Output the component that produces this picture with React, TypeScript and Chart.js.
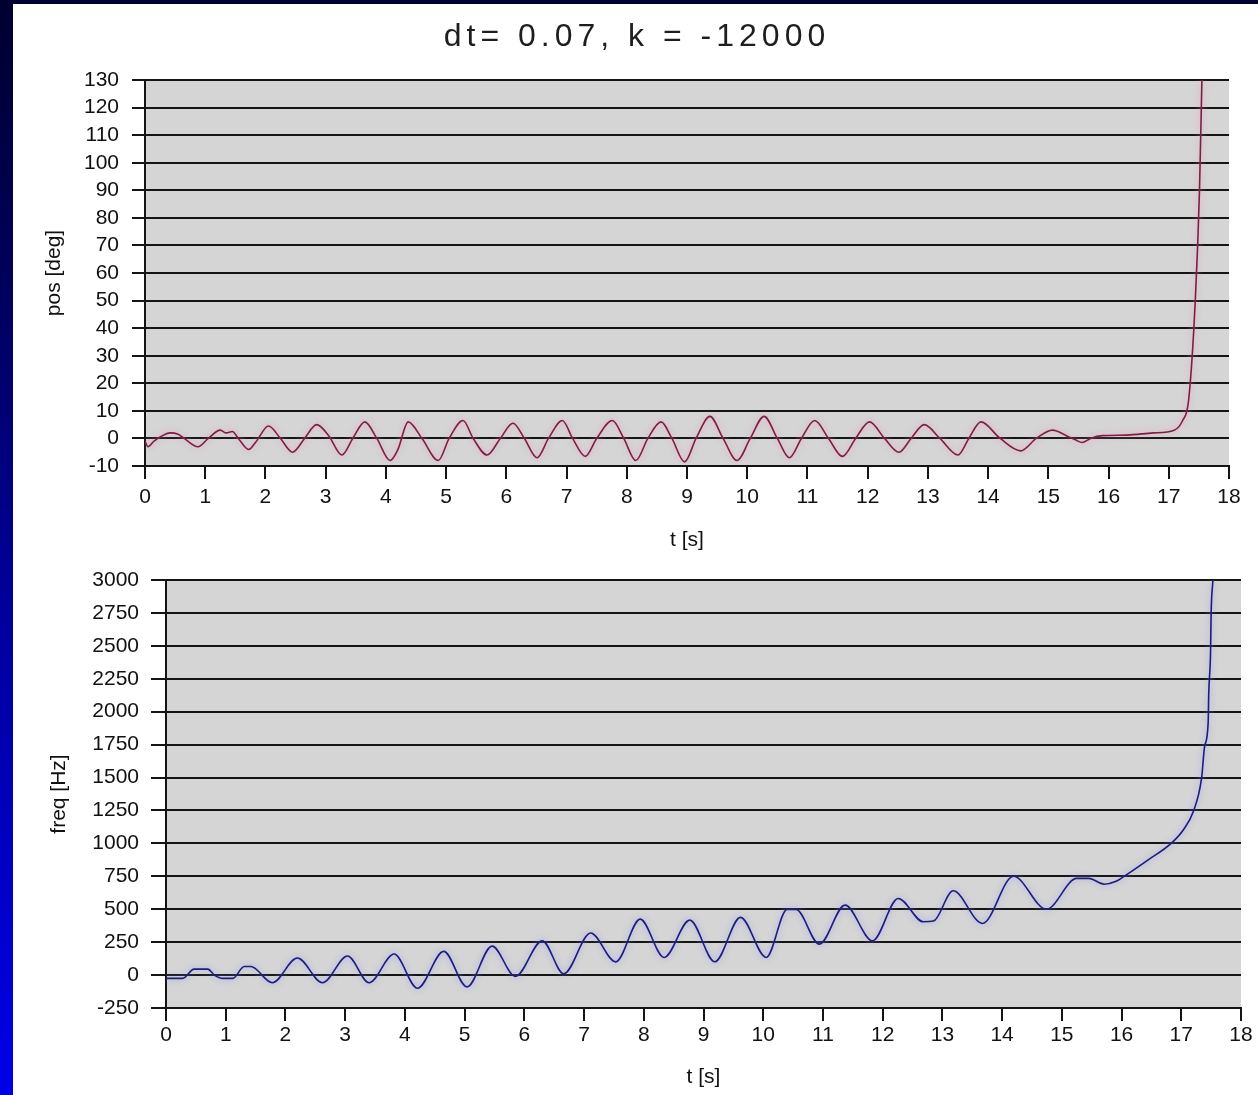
import React, { useEffect, useRef } from "react";
import { Chart, registerables } from "chart.js";

Chart.register(...registerables);

// ---- data -------------------------------------------------------------
const TITLE = "dt= 0.07, k = -12000";

const tTicksMax = 18;

// angular position over time
const posT = [
  0.0, 0.05, 0.15, 0.25, 0.42, 0.55, 0.65, 0.88, 1.05, 1.25, 1.35, 1.45, 1.55, 1.72, 1.85,
  2.05, 2.25, 2.45, 2.65, 2.85, 3.05, 3.27, 3.45, 3.65, 3.85, 4.07, 4.2, 4.37, 4.6, 4.87,
  5.05, 5.28, 5.45, 5.68, 5.9, 6.11, 6.3, 6.51, 6.7, 6.93, 7.1, 7.31, 7.5, 7.76, 7.95,
  8.15, 8.35, 8.57, 8.75, 8.96, 9.15, 9.38, 9.6, 9.83, 10.05, 10.28, 10.5, 10.7, 10.9,
  11.12, 11.35, 11.58, 11.8, 12.03, 12.28, 12.52, 12.72, 12.94, 13.2, 13.5, 13.68, 13.88,
  14.2, 14.54, 14.8, 15.07, 15.3, 15.45, 15.56, 15.7, 15.9, 16.3, 16.74, 17.09, 17.23,
  17.33, 17.44, 17.51, 17.55,
];
const posDeg = [
  -1, -3, -1, 0.5, 2, 1.5, 0, -3, 0, 3, 2, 2.5, 0, -4, -1,
  4.5, 0, -5, 0, 5, 1, -6, 0, 6, 0, -8, -4, 6, 0, -8,
  0, 6.5, 0, -6, 0, 5.5, 0, -7, 0, 6.5, 0, -6.5, 0, 6.5, 0,
  -8, 0, 6, 0, -8.5, 0, 8, 0, -8, 0, 8, 0, -7, 0,
  6.5, 0, -6.5, 0, 6, 0, -5, 0, 5, 0, -6, 0, 6,
  0, -4.5, 0, 3, 1, -0.5, -1.5, 0, 1, 1.2, 2, 3, 6.5,
  14, 50, 90, 130,
];

// frequency over time
const freqT = [
  0.0, 0.28, 0.47, 0.7, 0.81, 0.95, 1.12, 1.31, 1.42, 1.78, 2.2, 2.62, 3.04, 3.4, 3.82,
  4.21, 4.65, 5.04, 5.46, 5.85, 6.3, 6.66, 7.11, 7.53, 7.94, 8.34, 8.77, 9.19, 9.62,
  10.05, 10.4, 10.55, 10.94, 11.37, 11.83, 12.26, 12.68, 12.85, 13.18, 13.67, 14.19,
  14.74, 15.25, 15.45, 15.71, 15.91, 16.06, 16.44, 16.83, 17.03, 17.2, 17.34, 17.39,
  17.45, 17.46, 17.49, 17.5, 17.53,
];
const freqHz = [
  -25, -25, 45, 45, 0, -25, -25, 65, 65, -58, 130, -58, 145, -58, 160,
  -100, 180, -90, 220, -10, 260, 10, 320, 100, 425, 134, 417, 101, 438,
  134, 498, 498, 235, 531, 260, 582, 405, 410, 640, 392, 750,
  500, 734, 734, 690, 712, 755, 873, 1000, 1100, 1240, 1495, 1735,
  1915, 2140, 2450, 2750, 3000,
];

// ---- shared styling ---------------------------------------------------
const FONT = "'Liberation Sans', Arial, sans-serif";
const PLOT_FILL = "#d5d5d5";
const GRID = "#141414";

const plotBackground = {
  id: "plotBackground",
  beforeDraw(chart: any) {
    const { ctx, chartArea } = chart;
    ctx.save();
    ctx.fillStyle = PLOT_FILL;
    ctx.fillRect(chartArea.left, chartArea.top, chartArea.right - chartArea.left, chartArea.bottom - chartArea.top);
    ctx.restore();
  },
};

// soft glow around the trace
const traceGlow = {
  id: "traceGlow",
  beforeDatasetDraw(chart: any, _args: any, opts: any) {
    chart.ctx.save();
    chart.ctx.shadowColor = opts.color || "rgba(0,0,0,0)";
    chart.ctx.shadowBlur = 6;
  },
  afterDatasetDraw(chart: any) {
    chart.ctx.restore();
  },
};

const headline = {
  id: "headline",
  afterDraw(chart: any, _args: any, opts: any) {
    if (!opts || !opts.text) return;
    const { ctx } = chart;
    ctx.save();
    ctx.font = `32px ${FONT}`;
    (ctx as any).letterSpacing = "5px";
    ctx.fillStyle = "#1e1e1e";
    ctx.textAlign = "center";
    ctx.textBaseline = "middle";
    ctx.fillText(opts.text, opts.x, opts.y);
    ctx.restore();
  },
};

const plainNumber = (v: any) => String(v);

function buildConfig(p: {
  xs: number[];
  ys: number[];
  color: string;
  glow: string;
  yMin: number;
  yMax: number;
  yStep: number;
  yTitle: string;
  yWidth: number;
  yTickLen: number;
  yPad: number;
  yTitlePad: number;
  xHeight: number;
  xPad: number;
  xTitlePad: number;
  padTop: number;
  padRight: number;
  headline?: { text: string; x: number; y: number };
}): any {
  const points = p.xs.map((x, i) => ({ x, y: p.ys[i] }));
  return {
    type: "line",
    data: {
      datasets: [
        {
          data: points,
          borderColor: p.color,
          borderWidth: 1.6,
          pointRadius: 0,
          cubicInterpolationMode: "monotone",
          fill: false,
        },
      ],
    },
    plugins: [plotBackground, traceGlow, headline],
    options: {
      animation: false,
      responsive: false,
      devicePixelRatio: 1,
      layout: { padding: { top: p.padTop, right: p.padRight, left: 0, bottom: 0 } },
      plugins: {
        legend: { display: false },
        tooltip: { enabled: false },
        traceGlow: { color: p.glow },
        headline: p.headline || {},
      },
      scales: {
        x: {
          type: "linear",
          min: 0,
          max: tTicksMax,
          afterFit(scale: any) {
            scale.height = p.xHeight;
          },
          ticks: {
            stepSize: 1,
            autoSkip: false,
            maxRotation: 0,
            padding: p.xPad,
            color: "#111",
            font: { family: FONT, size: 21 },
            callback: plainNumber,
          },
          grid: {
            drawOnChartArea: false,
            drawTicks: true,
            tickLength: 13,
            color: GRID,
            lineWidth: 2,
          },
          border: { display: true, color: GRID, width: 2 },
          title: {
            display: true,
            text: "t [s]",
            color: "#111",
            font: { family: FONT, size: 21 },
            padding: { top: 0, bottom: p.xTitlePad },
          },
        },
        y: {
          type: "linear",
          min: p.yMin,
          max: p.yMax,
          afterFit(scale: any) {
            scale.width = p.yWidth;
          },
          ticks: {
            stepSize: p.yStep,
            autoSkip: false,
            padding: p.yPad,
            color: "#111",
            font: { family: FONT, size: 21 },
            callback: plainNumber,
          },
          grid: {
            drawOnChartArea: true,
            drawTicks: true,
            tickLength: p.yTickLen,
            color: GRID,
            lineWidth: 2,
          },
          border: { display: true, color: GRID, width: 2 },
          title: {
            display: true,
            text: p.yTitle,
            color: "#111",
            font: { family: FONT, size: 21 },
            padding: { top: p.yTitlePad, bottom: 0 },
          },
        },
      },
    },
  };
}

function PlotCanvas({ config, width, height, left, top }: any) {
  const ref = useRef<HTMLCanvasElement | null>(null);
  useEffect(() => {
    if (!ref.current) return;
    const chart = new Chart(ref.current, config);
    return () => chart.destroy();
  }, [config]);
  return (
    <canvas
      ref={ref}
      width={width}
      height={height}
      style={{ position: "absolute", left, top, width, height }}
    />
  );
}

const posConfig = buildConfig({
  xs: posT,
  ys: posDeg,
  color: "#7c1f45",
  glow: "rgba(235,150,185,0.9)",
  yMin: -10,
  yMax: 130,
  yStep: 10,
  yTitle: "pos [deg]",
  yWidth: 132,
  yTickLen: 13,
  yPad: 13,
  yTitlePad: 29,
  xHeight: 89,
  xPad: 6,
  xTitlePad: 2,
  padTop: 76,
  padRight: 29,
  headline: { text: TITLE, x: 624, y: 33 },
});

const freqConfig = buildConfig({
  xs: freqT,
  ys: freqHz,
  color: "#1d1d7e",
  glow: "rgba(150,150,245,0.9)",
  yMin: -250,
  yMax: 3000,
  yStep: 250,
  yTitle: "freq [Hz]",
  yWidth: 153,
  yTickLen: 15,
  yPad: 12,
  yTitlePad: 34,
  xHeight: 87,
  xPad: 2,
  xTitlePad: 5,
  padTop: 25,
  padRight: 17,
});

export default function App() {
  return (
    <div
      style={{
        position: "fixed",
        left: 0,
        top: 0,
        width: 1258,
        height: 1095,
        overflow: "hidden",
        background: "linear-gradient(to bottom, #000030 0%, #00005a 25%, #00009a 55%, #0000e8 100%)",
      }}
    >
      <div style={{ position: "absolute", left: 13, top: 4, right: 0, bottom: 0, background: "#ffffff" }}>
        <PlotCanvas config={posConfig} width={1245} height={551} left={0} top={0} />
        <PlotCanvas config={freqConfig} width={1245} height={540} left={0} top={551} />
      </div>
    </div>
  );
}
